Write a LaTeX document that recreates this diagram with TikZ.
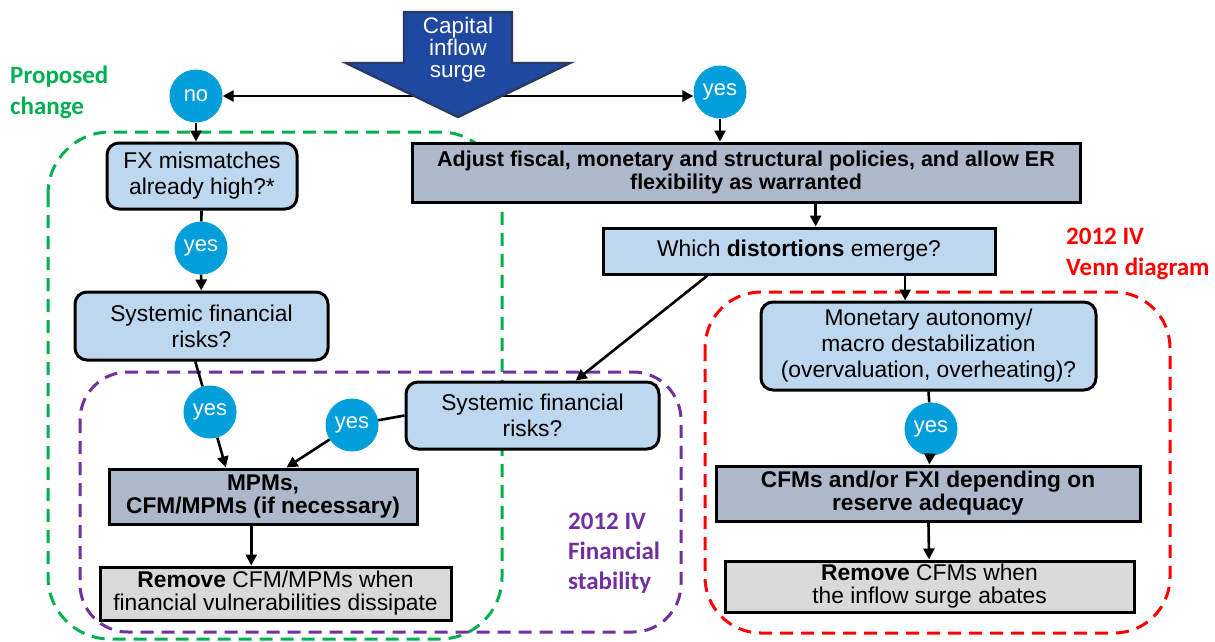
\documentclass[tikz,border=0pt]{standalone}
\usepackage{fontspec}
\setmainfont{Liberation Sans}
\newfontfamily\calib{Carlito}
\usetikzlibrary{arrows.meta}

\definecolor{boxblue}{RGB}{189,215,238}
\definecolor{boxgray}{RGB}{173,185,202}
\definecolor{boxlight}{RGB}{217,217,217}
\definecolor{ballblue}{RGB}{0,158,219}
\definecolor{surgeblue}{RGB}{31,73,161}
\definecolor{surgeedge}{RGB}{40,58,96}
\definecolor{propgreen}{RGB}{0,176,80}
\definecolor{finpurple}{RGB}{112,48,160}

\tikzset{
	ask/.style={draw, line width=3pt, fill=boxblue, rounded corners=12pt, align=center, inner sep=0pt, font=\fontsize{22.8}{26}\selectfont},
	act/.style={draw, line width=3pt, fill=boxgray, align=center, inner sep=0pt, font=\bfseries\fontsize{22.7}{23}\selectfont},
	undo/.style={draw, line width=3pt, fill=boxlight, align=center, inner sep=0pt, font=\fontsize{22.8}{23}\selectfont},
	ball/.style={circle, fill=ballblue, text=white, minimum size=53pt, inner sep=0pt, font=\fontsize{22}{24}\selectfont},
	link/.style={line width=2.6pt},
	go/.style={link, -{Triangle[length=11pt,width=11pt]}},
	zone/.style={line width=3pt, dash pattern=on 13pt off 8pt, rounded corners=#1},
	tag/.style={align=left, anchor=west, inner sep=0pt, font=\calib\bfseries\fontsize{25}{31}\selectfont},
}

\begin{document}
\begin{tikzpicture}[x=1pt,y=-1pt]

	\def\lx{430}
	\def\rx{485}
	\def\ly{96}

	\useasboundingbox (0,0) rectangle (1215,641);

	\draw[zone=62pt,propgreen] (48,132) rectangle (502,639);
	\draw[zone=48pt,finpurple] (80,372) rectangle (681,632);
	\draw[zone=56pt,red] (705,292) rectangle (1170,633);

	\node[tag,text=propgreen] (prop) at (10,92) {Proposed\\change};
	\node[tag,text=red] (venn) at (1066,254) {2012 IV\\Venn diagram};
	\node[tag,text=finpurple,font=\calib\bfseries\fontsize{25}{30}\selectfont] (fin) at (568,553) {2012 IV\\Financial\\stability};

	\node[ask,minimum width=190pt,minimum height=66pt] (fx) at (202,176) {FX mismatches\\already high?*};
	\node[ask,minimum width=253pt,minimum height=68pt] (sys1) at (201.5,326) {Systemic financial\\risks?};
	\node[act,font=\bfseries\fontsize{21.5}{23}\selectfont,minimum width=668pt,minimum height=59pt] (adjust) at (746,172.5) {Adjust fiscal, monetary and structural policies, and allow ER\\flexibility as warranted};
	\node[ask,rounded corners=0pt,minimum width=392pt,minimum height=46pt] (which) at (799,251) {Which \textbf{distortions} emerge?};
	\node[ask,minimum width=253pt,minimum height=67pt] (sys2) at (532.5,415.5) {Systemic financial\\risks?};
	\node[act,minimum width=308pt,minimum height=55pt] (mpm) at (263,496.5) {MPMs,\\CFM/MPMs (if necessary)};
	\node[undo,minimum width=351pt,minimum height=53pt] (rem1) at (275.5,593.5) {\textbf{Remove} CFM/MPMs when\\financial vulnerabilities dissipate};
	\node[ask,minimum width=335pt,minimum height=88pt] (mon) at (928.5,346) {Monetary autonomy/\\macro destabilization\\(overvaluation, overheating)?};
	\node[act,minimum width=424pt,minimum height=55pt] (cfm) at (928,493.5) {CFMs and/or FXI depending on\\reserve adequacy};
	\node[undo,minimum width=409pt,minimum height=51pt] (rem2) at (929.5,586.5) {\textbf{Remove} CFMs when\\the inflow surge abates};

	\node[ball] (no) at (196,96) {no};
	\node[ball] (yes0) at (720,92) {yes};
	\node[ball] (yes1) at (201,248) {yes};
	\node[ball] (yes2) at (210,412) {yes};
	\node[ball] (yes3) at (352,425) {yes};
	\node[ball] (yes4) at (931,429) {yes};

	\coordinate (lft) at (\lx,\ly);
	\coordinate (rgt) at (\rx,\ly);

	\draw[go] (lft) -- (no);
	\draw[go] (rgt) -- (rgt -| yes0.west);
	\draw[go] (no.south) -- (no.south |- fx.north);
	\draw[link] (fx) -- (yes1);
	\draw[go] (yes1) -- (sys1);
	\draw[link] (sys1.260) -- (yes2);
	\draw[go] (yes2) -- (mpm.142);
	\draw[link] (sys2.west) -- (yes3);
	\draw[go] (yes3) -- (mpm.51);
	\draw[go] (mpm.-112) -- (mpm.-112 |- rem1.north);
	\draw[go] (yes0) -- (yes0 |- adjust.north);
	\draw[go] (adjust.-24) -- (adjust.-24 |- which.north);
	\draw[go] (which.195) -- (sys2.39);
	\draw[go] (which.-13) -- (which.-13 |- mon.north);
	\draw[link] (mon.south) -- (yes4);
	\draw[go] (yes4) -- (cfm);
	\draw[go] (cfm) -- (rem2);

	\filldraw[fill=surgeblue,draw=surgeedge,line width=2.4pt] (404,12) -- (512,12) -- (512,63) -- (570,63) -- (458,117) -- (346,63) -- (404,63) -- cycle;
	\node[text=white,align=center,font=\fontsize{22.5}{22}\selectfont] (surge) at (458,50) {Capital\\inflow\\surge};
\end{tikzpicture}
\end{document}
